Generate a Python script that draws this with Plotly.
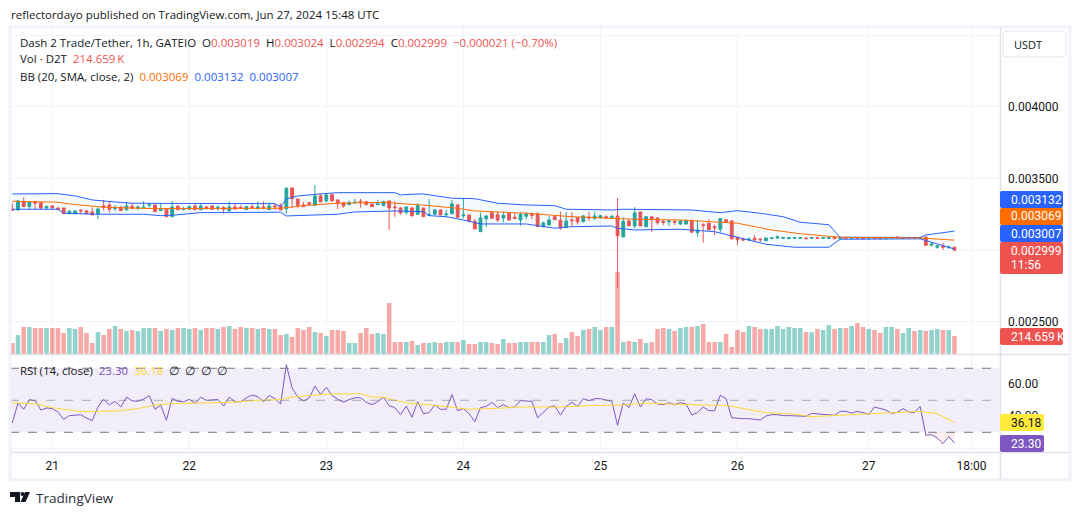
#!/usr/bin/env python3
"""
D2T/USDT 1h chart with Bollinger bands, volume and RSI
"""

import plotly.graph_objects as go

WIDTH = 1080
HEIGHT = 515

# OHLC in millionths of USDT, one row per ten candles
opens = [
    3285, 3280, 3336, 3303, 3338, 3331, 3294, 3308, 3292, 3294,
    3254, 3254, 3278, 3273, 3266, 3252, 3308, 3315, 3289, 3299,
    3280, 3306, 3292, 3292, 3313, 3315, 3275, 3289, 3233, 3306,
    3285, 3287, 3308, 3282, 3301, 3308, 3289, 3296, 3275, 3301,
    3299, 3282, 3303, 3294, 3301, 3282, 3308, 3310, 3289, 3434,
    3357, 3315, 3331, 3313, 3378, 3343, 3387, 3350, 3331, 3317,
    3329, 3341, 3338, 3322, 3317, 3310, 3343, 3301, 3294, 3264,
    3294, 3250, 3294, 3243, 3250, 3280, 3247, 3254, 3315, 3240,
    3245, 3201, 3128, 3219, 3261, 3247, 3224, 3257, 3229, 3210,
    3236, 3250, 3252, 3163, 3175, 3233, 3208, 3159, 3210, 3226,
    3198, 3231, 3222, 3226, 3233, 3226, 3238, 3091, 3203, 3168,
    3266, 3163, 3231, 3224, 3201, 3198, 3201, 3182, 3182, 3203,
    3121, 3177, 3187, 3163, 3145, 3212, 3203, 3089, 3077, 3070,
    3082, 3077, 3065, 3079, 3084, 3082, 3079, 3082, 3082, 3084,
    3082, 3086, 3082, 3082, 3091, 3079, 3086, 3082, 3084, 3084,
    3079, 3086, 3084, 3079, 3082, 3091, 3082, 3082, 3086, 3082,
    3089, 3035, 3019, 3028, 3016, 3019,
]
highs = [
    3327, 3350, 3369, 3338, 3338, 3331, 3306, 3315, 3303, 3294,
    3278, 3278, 3287, 3280, 3299, 3292, 3350, 3336, 3313, 3308,
    3338, 3327, 3310, 3341, 3327, 3315, 3327, 3289, 3341, 3315,
    3303, 3313, 3322, 3327, 3308, 3315, 3313, 3308, 3341, 3327,
    3313, 3308, 3320, 3341, 3341, 3334, 3322, 3327, 3439, 3434,
    3357, 3336, 3336, 3455, 3392, 3397, 3392, 3350, 3336, 3345,
    3357, 3357, 3343, 3322, 3350, 3345, 3343, 3343, 3299, 3303,
    3303, 3327, 3294, 3357, 3287, 3285, 3280, 3350, 3322, 3357,
    3245, 3217, 3261, 3245, 3264, 3268, 3268, 3261, 3259, 3266,
    3264, 3264, 3266, 3198, 3238, 3238, 3268, 3264, 3264, 3226,
    3245, 3266, 3268, 3245, 3243, 3245, 3364, 3229, 3215, 3299,
    3266, 3238, 3238, 3229, 3210, 3210, 3210, 3210, 3215, 3215,
    3210, 3187, 3215, 3177, 3224, 3217, 3210, 3093, 3086, 3086,
    3105, 3082, 3086, 3086, 3103, 3091, 3091, 3093, 3091, 3089,
    3091, 3091, 3091, 3091, 3098, 3091, 3089, 3089, 3089, 3089,
    3089, 3091, 3089, 3091, 3089, 3093, 3089, 3089, 3089, 3091,
    3098, 3051, 3035, 3051, 3030, 3024,
]
lows = [
    3275, 3275, 3301, 3285, 3285, 3285, 3280, 3285, 3280, 3252,
    3250, 3250, 3250, 3250, 3245, 3217, 3275, 3261, 3271, 3275,
    3280, 3287, 3280, 3292, 3296, 3268, 3275, 3233, 3233, 3280,
    3275, 3280, 3280, 3280, 3285, 3280, 3275, 3254, 3268, 3280,
    3289, 3280, 3287, 3280, 3285, 3282, 3280, 3280, 3254, 3292,
    3292, 3303, 3313, 3308, 3336, 3336, 3341, 3287, 3296, 3315,
    3327, 3296, 3313, 3301, 3317, 3308, 3140, 3233, 3247, 3245,
    3233, 3245, 3233, 3240, 3247, 3245, 3226, 3250, 3229, 3222,
    3194, 3147, 3128, 3161, 3217, 3196, 3194, 3205, 3215, 3170,
    3215, 3217, 3161, 3159, 3173, 3210, 3142, 3152, 3163, 3177,
    3194, 3205, 3210, 3219, 3217, 3219, 2734, 3091, 3163, 3152,
    3168, 3161, 3126, 3177, 3173, 3168, 3175, 3175, 3177, 3124,
    3093, 3051, 3140, 3105, 3121, 3194, 3077, 3035, 3063, 3063,
    3058, 3056, 3063, 3077, 3077, 3077, 3077, 3077, 3077, 3077,
    3079, 3077, 3079, 3079, 3077, 3075, 3077, 3079, 3079, 3077,
    3077, 3077, 3077, 3077, 3079, 3082, 3079, 3079, 3079, 3079,
    3033, 3023, 3009, 3000, 3009, 2994,
]
closes = [
    3278, 3343, 3303, 3336, 3327, 3294, 3306, 3294, 3282, 3254,
    3271, 3273, 3273, 3254, 3245, 3287, 3299, 3285, 3299, 3275,
    3308, 3292, 3301, 3299, 3317, 3268, 3287, 3233, 3301, 3282,
    3289, 3303, 3282, 3308, 3289, 3285, 3299, 3285, 3301, 3287,
    3294, 3303, 3296, 3301, 3296, 3308, 3303, 3280, 3432, 3359,
    3313, 3303, 3320, 3378, 3336, 3385, 3343, 3324, 3308, 3331,
    3334, 3334, 3317, 3303, 3324, 3338, 3294, 3296, 3259, 3301,
    3240, 3310, 3233, 3247, 3280, 3245, 3252, 3322, 3229, 3245,
    3203, 3147, 3224, 3238, 3222, 3210, 3243, 3210, 3222, 3250,
    3252, 3243, 3163, 3189, 3210, 3212, 3154, 3203, 3205, 3196,
    3238, 3224, 3238, 3240, 3226, 3236, 3100, 3201, 3170, 3259,
    3168, 3233, 3217, 3191, 3194, 3203, 3194, 3203, 3205, 3124,
    3140, 3173, 3140, 3156, 3219, 3196, 3077, 3072, 3070, 3077,
    3070, 3072, 3084, 3084, 3091, 3086, 3086, 3086, 3086, 3079,
    3086, 3082, 3086, 3086, 3079, 3086, 3082, 3084, 3082, 3079,
    3084, 3082, 3079, 3086, 3086, 3086, 3086, 3086, 3082, 3086,
    3033, 3042, 3030, 3019, 3021, 2999,
]

# Volume in thousands of D2T
volumes = [
    118, 203, 289, 289, 278, 278, 278, 278, 278, 225,
    278, 268, 289, 225, 118, 235, 203, 268, 300, 268,
    246, 257, 246, 278, 278, 278, 246, 268, 257, 278,
    278, 268, 278, 257, 278, 278, 268, 289, 300, 268,
    289, 278, 278, 268, 278, 268, 268, 203, 214, 182,
    278, 257, 289, 235, 225, 193, 257, 257, 246, 118,
    118, 225, 278, 214, 225, 214, 546, 128, 128, 128,
    139, 96, 118, 118, 128, 118, 128, 128, 128, 150,
    107, 107, 128, 128, 118, 107,
    161, 118, 118, 128, 128, 128, 128, 128, 203, 214,
    118, 171, 235, 193, 257, 268, 289, 257, 289, 289,
    877, 128, 139, 128, 161, 118, 128, 268, 278, 268,
    246, 278, 289, 289, 300, 321, 128, 128, 128, 214,
    75, 257, 235, 300, 289, 268, 268, 268, 300,
    268, 289, 278, 278, 235, 235, 268, 257, 310, 268,
    278, 278, 300, 332, 289, 268, 257, 225, 289, 289,
    268, 225, 278, 246, 257, 246, 257, 268, 257, 257,
    193,
]

# Bollinger bands, read at the candles where the line changes direction
upper_idx = [0, 8, 11, 14, 18, 21, 46, 47, 48, 50, 54, 57, 67, 68, 70, 72, 74, 77, 81, 83,
             85, 90, 95, 97, 105, 107, 117, 119, 124, 127, 131, 135, 138, 143, 145, 159, 160, 165]
upper_vals = [3392, 3394, 3378, 3350, 3336, 3327, 3324, 3303, 3357, 3378, 3392, 3401, 3401, 3385, 3390, 3392, 3380, 3362, 3359, 3345,
              3327, 3315, 3310, 3285, 3280, 3285, 3278, 3280, 3261, 3275, 3257, 3233, 3194, 3177, 3089, 3088, 3105, 3132]
lower_idx = [0, 8, 9, 15, 23, 26, 28, 33, 47, 48, 57, 60, 67, 72, 73, 76, 79, 82, 90, 92,
             95, 98, 105, 106, 109, 117, 123, 127, 132, 137, 143, 145, 159, 165]
lower_vals = [3285, 3285, 3257, 3250, 3250, 3240, 3243, 3261, 3264, 3238, 3250, 3266, 3273, 3268, 3240, 3233, 3210, 3182, 3182, 3168,
              3152, 3163, 3168, 3152, 3140, 3145, 3128, 3089, 3040, 3019, 3019, 3075, 3078, 3007]
basis_idx = [0, 8, 10, 16, 25, 47, 51, 57, 66, 67, 71, 75, 78, 81, 85, 90, 98, 105, 109, 117,
             127, 133, 138, 145, 159, 165]
basis_vals = [3341, 3334, 3322, 3299, 3289, 3292, 3310, 3327, 3334, 3327, 3317, 3303, 3292, 3273, 3264, 3257, 3233, 3222, 3215, 3210,
              3187, 3140, 3114, 3089, 3084, 3069]

rsi = [
    35.8, 48.3, 44.4, 50.4, 49.8, 43.9, 45.2, 44.8, 42.7, 38.1,
    40.4, 40.6, 41.0, 38.9, 37.3, 45.8, 50.6, 47.1, 49.4, 45.8,
    52.0, 49.6, 49.4, 50.8, 52.9, 44.4, 46.9, 37.5, 51.2, 49.4,
    49.1, 50.6, 48.1, 51.9, 50.0, 50.2, 50.6, 46.4, 52.0, 49.1,
    49.1, 51.6, 53.3, 52.3, 49.1, 53.1, 51.0, 47.7, 72.3, 57.7,
    52.0, 49.6, 51.4, 58.9, 53.7, 58.1, 53.1, 50.6, 48.9, 50.4,
    51.6, 51.6, 48.7, 47.3, 49.1, 52.0, 46.6, 45.4, 41.0, 46.4,
    39.4, 49.1, 41.6, 42.3, 47.1, 44.4, 44.4, 53.5, 43.5, 44.8,
    41.6, 36.6, 45.4, 46.2, 48.7, 45.4, 47.3, 45.4, 45.8, 49.8,
    49.6, 49.3, 39.1, 42.3, 45.8, 46.6, 40.8, 46.2, 48.7, 46.2,
    51.0, 49.8, 51.0, 51.0, 50.0, 49.4, 34.4, 48.3, 45.4, 54.1,
    45.8, 51.0, 50.4, 47.7, 47.3, 48.5, 47.3, 48.5, 47.7, 40.8,
    42.3, 45.8, 43.5, 43.5, 53.1, 51.0, 39.1, 38.7, 38.5, 38.5,
    38.1, 37.7, 40.2, 41.0, 41.0, 40.4, 40.4, 40.4, 40.0,
    40.0, 41.8, 41.6, 41.4, 41.0, 40.6, 43.1, 43.1, 42.0, 43.1,
    42.3, 41.2, 45.8, 44.8, 43.9, 41.8, 42.5, 44.8, 42.7, 42.3,
    46.2, 28.1, 28.5, 26.4, 22.9, 27.3, 23.3,
]
rsi_ma_idx = [0, 4, 7, 12, 18, 22, 25, 28, 38, 43, 47, 49, 55, 61, 63, 65, 67, 70, 74, 77,
              80, 85, 89, 96, 102, 107, 111, 118, 125, 132, 137, 140, 151, 159, 162, 165]
rsi_ma_vals = [48.5, 47.7, 45.4, 42.9, 43.3, 44.8, 47.1, 47.9, 48.7, 50.0, 50.4, 52.0, 53.9, 54.1, 52.0, 51.9, 50.0, 47.9, 46.9, 45.8,
               44.4, 45.0, 45.8, 45.8, 46.8, 47.0, 48.3, 47.3, 46.8, 42.3, 41.4, 39.8, 41.6, 43.1, 41.6, 36.18]

price_ticks = [0.0045, 0.004, 0.0035, 0.003, 0.0025]
price_labels = ["", "0.004000", "0.003500", "", "0.002500"]
rsi_ticks = [60, 40, 20]
rsi_labels = ["60.00", "40.00", ""]
# bar positions of the time labels (the exchange skipped one hour on the 26th)
day_ticks = [7, 31, 55, 79, 103, 127, 150, 168]
day_labels = ["21", "22", "23", "24", "25", "26", "27", "18:00"]

UP = "#26a69a"
DOWN = "#ef5350"
BLUE = "#2962ff"
ORANGE = "#ff6d00"
PURPLE = "#7e57c2"
YELLOW = "#fdd835"
GRID = "#f0f3fa"
BORDER = "#e0e3eb"
TEXT = "#131722"
FONT = "Open Sans"
NUM_FONT = "Roboto"


def px_x(x):
    return x / WIDTH


def px_y(y):
    return 1 - y / HEIGHT


def e6(values):
    return [v / 1e6 for v in values]


def rounded(x0, y0, x1, y1, r=2):
    """SVG path of a rounded box, given in page pixels"""
    pts = [("M", x0 + r, y0), ("L", x1 - r, y0), ("Q", x1, y0, x1, y0 + r), ("L", x1, y1 - r),
           ("Q", x1, y1, x1 - r, y1), ("L", x0 + r, y1), ("Q", x0, y1, x0, y1 - r), ("L", x0, y0 + r),
           ("Q", x0, y0, x0 + r, y0)]
    parts = []
    for p in pts:
        coords = []
        for k in range(1, len(p), 2):
            coords.append(f"{px_x(p[k])} {px_y(p[k + 1])}")
        parts.append(p[0] + " " + " ".join(coords))
    return " ".join(parts) + " Z"


bars = list(range(len(closes)))
candle_up = [c >= o for o, c in zip(opens, closes)]
vol_colors = ["rgba(38,166,154,0.5)" if u else "rgba(239,83,80,0.5)" for u in candle_up]

fig = go.Figure()

# volume sits under the candles on its own hidden axis
fig.add_trace(go.Bar(x=bars, y=volumes, marker=dict(color=vol_colors, line=dict(width=0)),
                     yaxis="y", showlegend=False))

fig.add_trace(go.Scatter(x=upper_idx, y=e6(upper_vals), mode="lines",
                         line=dict(color=BLUE, width=1), yaxis="y2", showlegend=False))
fig.add_trace(go.Scatter(x=lower_idx, y=e6(lower_vals), mode="lines",
                         line=dict(color=BLUE, width=1), fill="tonexty",
                         fillcolor="rgba(33,150,243,0.05)", yaxis="y2", showlegend=False))
fig.add_trace(go.Scatter(x=basis_idx, y=e6(basis_vals), mode="lines",
                         line=dict(color=ORANGE, width=1), yaxis="y2", showlegend=False))

fig.add_trace(go.Candlestick(
    x=bars, open=e6(opens), high=e6(highs), low=e6(lows), close=e6(closes),
    increasing=dict(line=dict(color=UP, width=1), fillcolor=UP),
    decreasing=dict(line=dict(color=DOWN, width=1), fillcolor=DOWN),
    whiskerwidth=0, yaxis="y2", showlegend=False))

# RSI pane
fig.add_trace(go.Scatter(x=bars[160:], y=[30] * 6, mode="lines", line=dict(width=0),
                         yaxis="y3", showlegend=False))
fig.add_trace(go.Scatter(x=bars[160:], y=rsi[160:], mode="lines", line=dict(width=0),
                         fill="tonexty", fillcolor="rgba(239,83,80,0.1)", yaxis="y3", showlegend=False))
fig.add_trace(go.Scatter(x=bars, y=rsi, mode="lines", line=dict(color=PURPLE, width=1),
                         yaxis="y3", showlegend=False))
fig.add_trace(go.Scatter(x=rsi_ma_idx, y=rsi_ma_vals, mode="lines",
                         line=dict(color=YELLOW, width=1), yaxis="y3", showlegend=False))

shapes = [
    # RSI band and levels
    dict(type="rect", xref="paper", yref="y3", x0=px_x(10), x1=px_x(1000), y0=30, y1=70,
         fillcolor="rgba(126,87,194,0.1)", line=dict(width=0), layer="below"),
]
for level in [70, 50, 30]:
    shapes.append(dict(type="line", xref="paper", yref="y3", x0=px_x(10), x1=px_x(1000), y0=level, y1=level,
                       line=dict(color="#787b86" if level != 50 else "rgba(120,123,134,0.6)", width=1, dash="dash")))

# chart frame and pane separators
shapes.append(dict(type="rect", xref="paper", yref="paper", x0=px_x(10), x1=px_x(1070),
                   y0=px_y(27), y1=px_y(479.5), line=dict(color=GRID, width=3)))
for x0, y0, x1, y1 in [(1000.5, 27, 1000.5, 479), (10, 354.5, 1069, 354.5), (10, 452.5, 1069, 452.5)]:
    shapes.append(dict(type="line", xref="paper", yref="paper", x0=px_x(x0), x1=px_x(x1),
                       y0=px_y(y0), y1=px_y(y1), line=dict(color=BORDER, width=1.5)))

annotations = []


def add_text(x, y, text, color=TEXT, size=11.5, anchor="left", family=FONT):
    annotations.append(dict(xref="paper", yref="paper", x=px_x(x), y=px_y(y), text=text, showarrow=False,
                            xanchor=anchor, yanchor="middle", font=dict(family=family, size=size, color=color)))


def add_box(x1, y0, y1, color):
    shapes.append(dict(type="path", xref="paper", yref="paper", path=rounded(1000, y0, x1, y1),
                       fillcolor=color, line=dict(width=0)))


# last-value labels on the price scale
box_rows = [
    (1063, 191, 208, BLUE, "0.003132", "white"),
    (1063, 208, 225, ORANGE, "0.003069", "white"),
    (1063, 225, 242, BLUE, "0.003007", "white"),
    (1063, 328, 345, DOWN, "214.659\u2009K", "white"),
    (1044, 414, 431, "#ffeb3b", "36.18", TEXT),
    (1044, 435, 452, PURPLE, "23.30", "white"),
]
for x1, y0, y1, color, label, text_color in box_rows:
    add_box(x1, y0, y1, color)
    add_text(1009, (y0 + y1) / 2, label, text_color, 12, "left", NUM_FONT)
add_box(1063, 242, 274, DOWN)
add_text(1009, 251, "0.002999", "white", 12, "left", NUM_FONT)
add_text(1009, 265, "11:56", "white", 12, "left", NUM_FONT)

# currency button
shapes.append(dict(type="path", xref="paper", yref="paper", path=rounded(1003, 31, 1066, 57, 4),
                   fillcolor="white", line=dict(color=BORDER, width=1)))
add_text(1012, 45, "USDT", TEXT, 11, "left")

# header
add_text(9, 14, "reflectordayo published on TradingView.com, Jun 27, 2024 15:48 UTC", TEXT, 11.5)
red = '<span style="color:#ef5350">'
add_text(18, 42, f'Dash 2 Trade/Tether, 1h, GATEIO  O{red}0.003019</span>  H{red}0.003024</span>  '
                 f'L{red}0.002994</span>  C{red}0.002999</span>  {red}−0.000021 (−0.70%)</span>', TEXT, 11.5)
add_text(18, 59, f'Vol · D2T  {red}214.659\u2009K</span>', TEXT, 11.5)
add_text(18, 76, 'BB (20, SMA, close, 2)  <span style="color:#ff6d00">0.003069</span>  '
                 '<span style="color:#2962ff">0.003132</span>  <span style="color:#2962ff">0.003007</span>', TEXT, 11.5)
add_text(18, 370, 'RSI (14, close)  <span style="color:#7e57c2">23.30</span>  '
                  '<span style="color:#fdd835">36.18</span>  ∅  ∅  ∅  ∅', TEXT, 11.5)

# footer logo and wordmark
shapes.append(dict(type="path", xref="paper", yref="paper", fillcolor=TEXT, line=dict(width=0),
                   path=f"M {px_x(10)} {px_y(492)} L {px_x(20)} {px_y(492)} L {px_x(20)} {px_y(502)} "
                        f"L {px_x(15)} {px_y(502)} L {px_x(15)} {px_y(497)} L {px_x(10)} {px_y(497)} Z"))
shapes.append(dict(type="circle", xref="paper", yref="paper", fillcolor=TEXT, line=dict(width=0),
                   x0=px_x(20.5), x1=px_x(24.5), y0=px_y(492), y1=px_y(496)))
shapes.append(dict(type="path", xref="paper", yref="paper", fillcolor=TEXT, line=dict(width=0),
                   path=f"M {px_x(25)} {px_y(492)} L {px_x(30)} {px_y(492)} L {px_x(25.5)} {px_y(502)} "
                        f"L {px_x(20.5)} {px_y(502)} Z"))
add_text(34, 497.5, "TradingView", "#2a2e39", 13.5)

fig.update_layout(
    width=WIDTH,
    height=HEIGHT,
    margin=dict(l=0, r=0, t=0, b=0),
    paper_bgcolor="white",
    plot_bgcolor="white",
    bargap=0.2,
    shapes=shapes,
    annotations=annotations,
    font=dict(family=FONT, size=12, color=TEXT),
    xaxis=dict(
        domain=[px_x(10), px_x(1000)],
        anchor="y3",
        range=[-0.40, 172.98],
        rangeslider=dict(visible=False),
        tickmode="array",
        tickvals=day_ticks,
        ticktext=day_labels,
        ticklen=0,
        ticklabelstandoff=5,
        showgrid=True,
        gridcolor=GRID,
        showline=False,
        zeroline=False,
        tickfont=dict(family=NUM_FONT, size=12, color=TEXT),
    ),
    yaxis=dict(
        domain=[px_y(354), px_y(28)],
        range=[0, 3488],
        visible=False,
        showgrid=False,
        anchor="x",
    ),
    yaxis2=dict(
        domain=[px_y(354), px_y(28)],
        overlaying="y",
        side="right",
        anchor="x",
        range=[0.00227273, 0.0045524],
        tickmode="array",
        tickvals=price_ticks,
        ticktext=price_labels,
        ticklen=0,
        ticklabelstandoff=7,
        showgrid=True,
        gridcolor=GRID,
        zeroline=False,
        tickfont=dict(family=NUM_FONT, size=12, color=TEXT),
    ),
    yaxis3=dict(
        domain=[px_y(452.3), px_y(355)],
        side="right",
        anchor="x",
        range=[17.5, 78.3],
        tickmode="array",
        tickvals=rsi_ticks,
        ticktext=rsi_labels,
        ticklen=0,
        ticklabelstandoff=7,
        showgrid=True,
        gridcolor=GRID,
        zeroline=False,
        tickfont=dict(family=NUM_FONT, size=12, color=TEXT),
    ),
)

# the page's default body margin would push the figure 8px off
fig.write_html("out.html", config={"displayModeBar": False},
               post_script="document.body.style.margin='0';")
